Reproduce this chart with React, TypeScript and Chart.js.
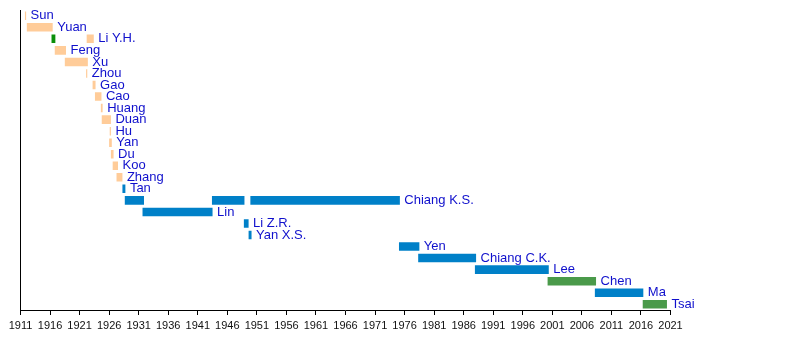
import React, { useEffect, useRef } from "react";
import { Chart, registerables } from "chart.js";

Chart.register(...registerables);

const names = [
  "Sun", "Yuan", "Li Y.H.", "Feng", "Xu", "Zhou", "Gao", "Cao", "Huang", "Duan",
  "Hu", "Yan", "Du", "Koo", "Zhang", "Tan", "Chiang K.S.", "Lin", "Li Z.R.", "Yan X.S.",
  "Yen", "Chiang C.K.", "Lee", "Chen", "Ma", "Tsai",
];

// First term segment for each row
const seg1Start = [
  1911.75, 1912.07, 1916.25, 1916.8, 1918.5, 1922.1, 1923.2, 1923.6, 1924.6, 1924.75,
  1926.1, 1926.0, 1926.3, 1926.6, 1927.25, 1928.25, 1928.65, 1931.65, 1948.8, 1949.6,
  1975.05, 1978.3, 1987.9, 2000.2, 2008.2, 2016.3,
];
const seg1End = [
  1911.95, 1916.45, 1916.9, 1918.7, 1922.4, 1922.3, 1923.7, 1924.7, 1924.9, 1926.3,
  1926.3, 1926.45, 1926.75, 1927.5, 1928.25, 1928.75, 1931.9, 1943.5, 1949.6, 1950.1,
  1978.5, 1988.1, 2000.4, 2008.4, 2016.4, 2020.4,
];
const seg1Party = [
  "B", "B", "P", "B", "B", "B", "B", "B", "B", "B",
  "B", "B", "B", "B", "B", "K", "K", "K", "K", "K",
  "K", "K", "K", "D", "K", "D",
];

// Second term segments (only Li Y.H. and Chiang K.S.)
const seg2Start: (number | null)[] = names.map(() => null);
const seg2End: (number | null)[] = names.map(() => null);
const seg2Party: string[] = names.map(() => "K");
seg2Start[2] = 1922.2; seg2End[2] = 1923.4; seg2Party[2] = "B";
seg2Start[16] = 1943.4; seg2End[16] = 1948.9; seg2Party[16] = "K";

// Third term segment (Chiang K.S.)
const seg3Start: (number | null)[] = names.map(() => null);
const seg3End: (number | null)[] = names.map(() => null);
const seg3Party: string[] = names.map(() => "K");
seg3Start[16] = 1949.9; seg3End[16] = 1975.2;

const partyColors: Record<string, string> = {
  B: "#ffcc99",
  K: "#0080c8",
  D: "#4a9a4a",
  P: "#0a8f0a",
};

const labelColor = "#1010cc";

export default function App() {
  const ref = useRef<HTMLCanvasElement | null>(null);

  useEffect(() => {
    if (!ref.current) return;
    const segs = [
      [seg1Start, seg1End, seg1Party],
      [seg2Start, seg2End, seg2Party],
      [seg3Start, seg3End, seg3Party],
    ] as [(number | null)[], (number | null)[], string[]][];

    const datasets = segs.map(([s, e, p], k) => ({
      label: "term" + (k + 1),
      data: names.map((_, i) => (s[i] == null ? null : [s[i], e[i]])) as any,
      backgroundColor: p.map((x) => partyColors[x]),
      borderWidth: 0,
      grouped: false,
      barPercentage: 0.74,
      categoryPercentage: 1,
    }));

    const labelPlugin = {
      id: "rowLabels",
      afterDatasetsDraw(chart: any) {
        const ctx = chart.ctx;
        const xs = chart.scales.x;
        const ys = chart.scales.y;
        ctx.save();
        ctx.font = "13px 'Liberation Sans', Arial, sans-serif";
        ctx.fillStyle = labelColor;
        ctx.textBaseline = "middle";
        ctx.textAlign = "left";
        names.forEach((n, i) => {
          const ends = [seg1End[i], seg2End[i], seg3End[i]].filter((v) => v != null) as number[];
          const m = Math.max(...ends);
          const x = xs.getPixelForValue(m) + 4.5;
          const y = ys.getPixelForValue(i);
          ctx.fillText(n, x, y);
        });
        ctx.restore();
      },
    };

    const chart = new Chart(ref.current, {
      type: "bar",
      data: { labels: names, datasets },
      options: {
        indexAxis: "y",
        animation: false,
        responsive: true,
        maintainAspectRatio: false,
        layout: { padding: { left: 20.5, right: 129.5, top: 10, bottom: 0 } },
        plugins: { legend: { display: false }, tooltip: { enabled: false } },
        scales: {
          x: {
            type: "linear",
            min: 1911,
            max: 2021,
            afterFit: (s: any) => { s.height = 50; },
            ticks: {
              stepSize: 5,
              autoSkip: false,
              maxRotation: 0,
              color: "#111",
              padding: 4,
              font: { family: "'Liberation Sans', Arial, sans-serif", size: 11 },
              callback: (v: any) => String(v),
            },
            grid: { drawOnChartArea: false, drawTicks: true, tickLength: 5, color: "#000" },
            border: { display: true, color: "#000", width: 1 },
          },
          y: {
            type: "category",
            afterFit: (s: any) => { s.width = 0; },
            ticks: { display: false },
            grid: { display: false },
            border: { display: true, color: "#000", width: 1 },
          },
        },
      },
      plugins: [labelPlugin],
    });
    return () => chart.destroy();
  }, []);

  return (
    <div style={{ position: "fixed", left: 0, top: 0, width: 800, height: 360, background: "#fff" }}>
      <canvas ref={ref} />
    </div>
  );
}
